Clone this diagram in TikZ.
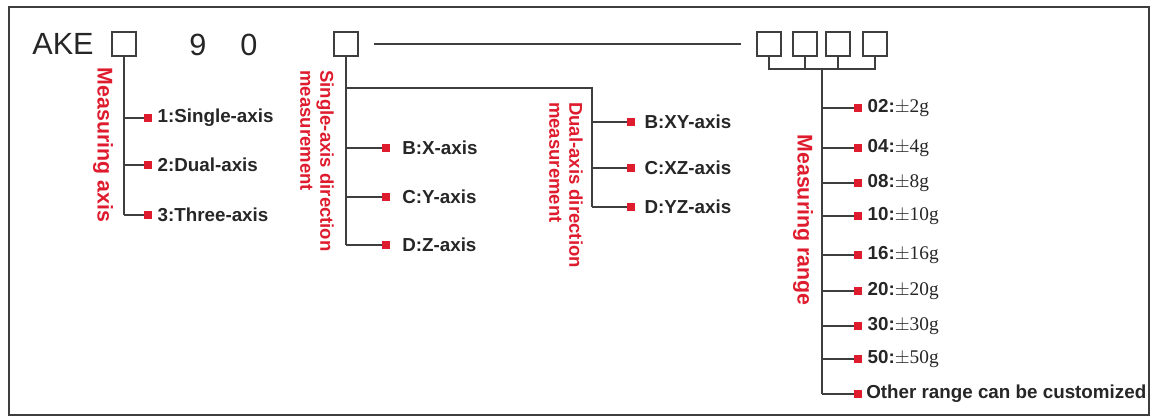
\documentclass[tikz,border=0pt]{standalone}
\usepackage{fontspec}
\setmainfont{Liberation Sans}
\newfontfamily\rangefont{Liberation Serif}
\usetikzlibrary{positioning}
\definecolor{markred}{RGB}{222,28,46}
\definecolor{linegray}{RGB}{62,62,62}
\definecolor{textdark}{RGB}{38,38,38}
\tikzset{
  codebox/.style={draw=linegray,line width=1.4pt,minimum width=18pt,minimum height=17.5pt,inner sep=0pt},
  conn/.style={draw=linegray,line width=1.1pt},
  redsq/.style={fill=markred,minimum size=5.6pt,inner sep=0pt},
  itemtext/.style={text=textdark,font=\fontsize{14.1}{15}\selectfont\bfseries,inner sep=0pt,anchor=west},
  redlabel/.style={text=markred,font=\fontsize{16}{15}\selectfont\bfseries,inner sep=0pt,rotate=-90,align=left},
  dirlabel/.style={redlabel,font=\fontsize{13.9}{15}\selectfont\bfseries},
  codetext/.style={text=textdark,font=\fontsize{23}{24}\selectfont,inner sep=0pt}
}

\begin{document}
\begin{tikzpicture}[x=0.75pt,y=-0.75pt]
\useasboundingbox (0,0) rectangle (1154,417);
\draw[draw=linegray,line width=1.8pt] (9,7) rectangle (1149,415);

% code row
\node[codetext] (ake) at (63,44) {AKE};
\node[codebox] (b1) at (124,44) {};
\node[codetext] (nine) at (198,45) {9};
\node[codetext] (zero) at (249,45) {0};
\node[codebox] (b2) at (346,44) {};
\node[codebox] (b3) at (769,44) {};
\node[codebox] (b4) at (805,44) {};
\node[codebox] (b5) at (838,44) {};
\node[codebox] (b6) at (875,44) {};
\draw[conn] ([xshift=11.5pt]b2.east) -- ([xshift=-11.5pt]b3.west);

% measuring axis
\node[redlabel] (maxis) at (103,145) {Measuring axis};
\coordinate (axend) at (124,215);
\draw[conn] (b1.south) -- (axend);
\foreach \y/\t [count=\i] in {118/1:Single-axis,165/2:Dual-axis,215/3:Three-axis} {
  \coordinate (axj\i) at (124,\y);
  \node[redsq] (ax\i) at (148,\y) {};
  \node[itemtext,right=4pt of ax\i] (axt\i) {\t};
  \draw[conn] (axj\i) -- (ax\i);
}

% single-axis direction
\node[dirlabel] (sdir) at (317,161) {Single-axis direction\\measurement};
\coordinate (send) at (346,245);
\coordinate (dtop) at (592,88);
\coordinate (dend) at (592,207);
\draw[conn] (b2.south) -- (send);
\draw[conn] (b2.south |- dtop) -- (dtop) -- (dend);
\foreach \y/\t [count=\i] in {148/B:X-axis,197/C:Y-axis,245/D:Z-axis} {
  \coordinate (sj\i) at (346,\y);
  \node[redsq] (s\i) at (386,\y) {};
  \node[itemtext,right=9pt of s\i] (st\i) {\t};
  \draw[conn] (sj\i) -- (s\i);
}

% dual-axis direction
\node[dirlabel] (ddir) at (566,185) {Dual-axis direction\\measurement};
\foreach \y/\t [count=\i] in {122/B:XY-axis,168/C:XZ-axis,207/D:YZ-axis} {
  \coordinate (dj\i) at (592,\y);
  \node[redsq] (d\i) at (631,\y) {};
  \node[itemtext,right=7pt of d\i] (dt\i) {\t};
  \draw[conn] (dj\i) -- (d\i);
}

% measuring range
\node[redlabel] (mrange) at (803,220) {Measuring range};
\coordinate (rtop) at (822,69);
\coordinate (rend) at (822,394);
\draw[conn] (b3.south) |- (rtop) -| (b6.south);
\draw[conn] (b4.south) -- (b4.south |- rtop);
\draw[conn] (b5.south) -- (b5.south |- rtop);
\draw[conn] (rtop) -- (rend);
\foreach \y/\c/\n [count=\i] in {108/02/2,148/04/4,183/08/8,216/10/10,255/16/16,291/20/20,326/30/30,359/50/50} {
  \coordinate (rj\i) at (822,\y);
  \node[redsq] (r\i) at (858,\y) {};
  \node[itemtext,right=4pt of r\i] (rt\i) {\c:{\rangefont\mdseries\fontsize{14.5}{15}\selectfont$\pm$\n g}};
  \draw[conn] (rj\i) -- (r\i);
}
\node[redsq] (r9) at (858,394) {};
\node[itemtext,right=3pt of r9] (rt9) {Other range can be customized};
\draw[conn] (rend) -- (r9);
\end{tikzpicture}
\end{document}
